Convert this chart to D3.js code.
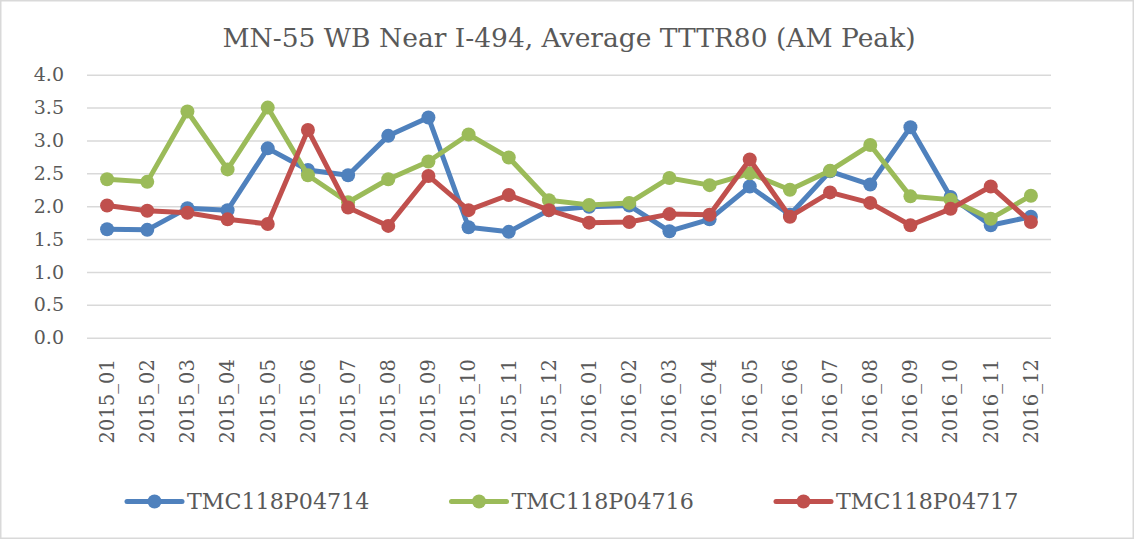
<!DOCTYPE html>
<html>
<head>
<meta charset="utf-8">
<script src="https://cdn.jsdelivr.net/npm/d3@7"></script>
<style>
  body { margin: 0; background: #fff; }
  text { font-family: "DejaVu Serif", serif; fill: #595959; }
</style>
</head>
<body>
<svg id="chart" width="1134" height="539"></svg>
<script>
var months = ["2015_01","2015_02","2015_03","2015_04","2015_05","2015_06","2015_07","2015_08","2015_09","2015_10","2015_11","2015_12",
              "2016_01","2016_02","2016_03","2016_04","2016_05","2016_06","2016_07","2016_08","2016_09","2016_10","2016_11","2016_12"];

var tmc04714 = [1.65,1.64,1.97,1.94,2.88,2.55,2.47,3.07,3.35,1.68,1.61,1.94,
                1.99,2.01,1.62,1.80,2.30,1.87,2.53,2.33,3.20,2.14,1.71,1.84];
var tmc04716 = [2.41,2.37,3.44,2.56,3.50,2.47,2.06,2.41,2.68,3.09,2.74,2.09,
                2.02,2.05,2.43,2.32,2.50,2.25,2.54,2.93,2.15,2.10,1.81,2.16];
var tmc04717 = [2.01,1.93,1.90,1.80,1.73,3.16,1.98,1.70,2.46,1.94,2.17,1.94,
                1.75,1.76,1.88,1.87,2.71,1.84,2.21,2.05,1.71,1.96,2.30,1.76];

var seriesNames = ["TMC118P04714","TMC118P04716","TMC118P04717"];
var yTicks = [0,0.5,1,1.5,2,2.5,3,3.5,4];

var series = [
  {name: seriesNames[0], values: tmc04714, color: "#4F81BD"},
  {name: seriesNames[1], values: tmc04716, color: "#9BBB59"},
  {name: seriesNames[2], values: tmc04717, color: "#C0504D"}
];

var svg = d3.select("#chart");
var W = 1134, H = 539;
var margin = {top: 74.7, right: 83, bottom: 201.3, left: 87};

// outer frame
svg.append("rect")
    .attr("x", 0.75).attr("y", 0.75)
    .attr("width", W - 1.5).attr("height", H - 1.5)
    .attr("fill", "#fff").attr("stroke", "#D9D9D9").attr("stroke-width", 1.5);

svg.append("text")
    .attr("x", 569).attr("y", 47)
    .attr("text-anchor", "middle")
    .style("font-size", "26.5px")
    .text("MN-55 WB Near I-494, Average TTTR80 (AM Peak)");

var x = d3.scaleBand().domain(months).range([margin.left, W - margin.right]);
var y = d3.scaleLinear().domain([0, 4]).range([H - margin.bottom, margin.top]);

// gridlines + y labels
var yAxis = svg.append("g")
    .attr("transform", "translate(" + margin.left + ",0)")
    .call(d3.axisLeft(y).tickValues(yTicks).tickFormat(d3.format(".1f"))
      .tickSize(-(W - margin.left - margin.right)).tickPadding(23));
yAxis.select(".domain").remove();
yAxis.selectAll(".tick line").attr("stroke", "#D9D9D9").attr("stroke-width", 1.5);
yAxis.selectAll(".tick text").style("font-size", "19px").attr("fill", "#595959");

var xAxis = svg.append("g")
    .attr("transform", "translate(0," + y(0) + ")")
    .call(d3.axisBottom(x).tickSize(0));
xAxis.select(".domain").remove();
xAxis.selectAll(".tick text")
    .style("font-size", "19.5px")
    .attr("fill", "#595959")
    .attr("text-anchor", "end")
    .attr("transform", "rotate(-90)")
    .attr("x", -21.5).attr("y", 0).attr("dy", "0.35em");

var line = d3.line()
    .x(function(d, i) { return x(months[i]) + x.bandwidth() / 2; })
    .y(function(d) { return y(d); });

series.forEach(function(s) {
  var g = svg.append("g");
  g.append("path")
      .attr("d", line(s.values))
      .attr("fill", "none")
      .attr("stroke", s.color)
      .attr("stroke-width", 5)
      .attr("stroke-linejoin", "round")
      .attr("stroke-linecap", "round");
  g.selectAll("circle").data(s.values).enter().append("circle")
      .attr("cx", function(d, i) { return x(months[i]) + x.bandwidth() / 2; })
      .attr("cy", function(d) { return y(d); })
      .attr("r", 7)
      .attr("fill", s.color);
});

// legend
var legend = svg.append("g").attr("transform", "translate(127,501.5)");
var item = legend.selectAll("g").data(series).enter().append("g")
    .attr("transform", function(d, i) { return "translate(" + (i * 324.5) + ",0)"; });
item.append("line")
    .attr("x1", 0).attr("x2", 55).attr("y1", 0).attr("y2", 0)
    .attr("stroke", function(d) { return d.color; })
    .attr("stroke-width", 5).attr("stroke-linecap", "round");
item.append("circle")
    .attr("cx", 27.5).attr("cy", 0).attr("r", 7)
    .attr("fill", function(d) { return d.color; });
item.append("text")
    .attr("x", 60).attr("y", 0).attr("dy", "0.35em")
    .style("font-size", "22.2px")
    .text(function(d) { return d.name; });
</script>
</body>
</html>
